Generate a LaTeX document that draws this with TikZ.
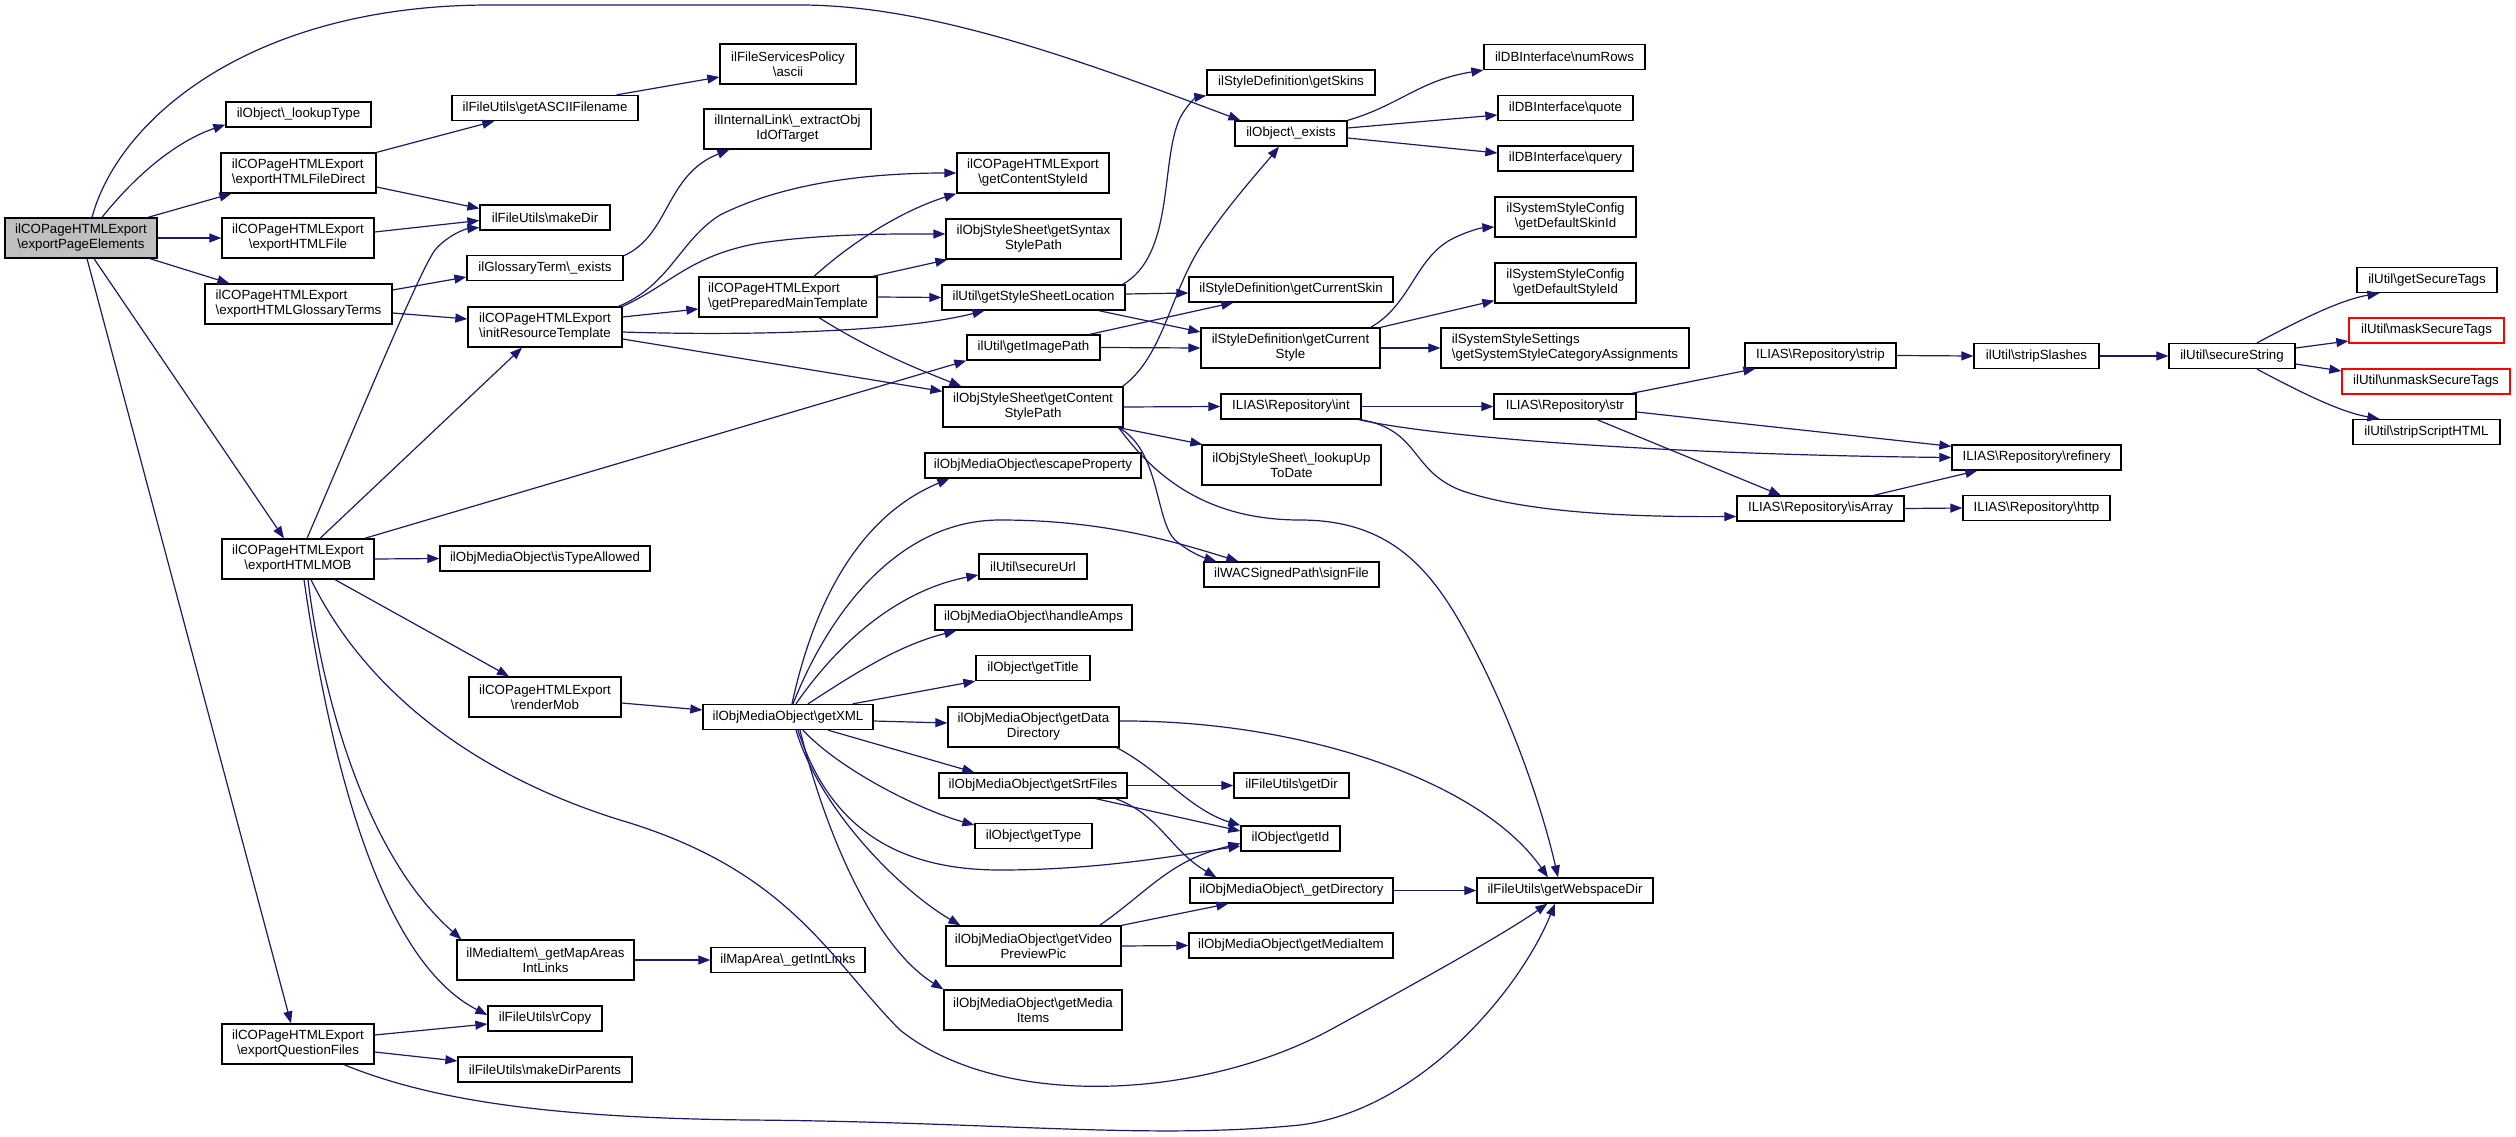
\documentclass[tikz,border=0pt]{standalone}
\usepackage{fontspec}
\setmainfont{Liberation Sans}
\usetikzlibrary{arrows.meta}
\definecolor{edgec}{HTML}{191970}
\definecolor{rootfill}{HTML}{BFBFBF}
\definecolor{redb}{HTML}{FF0000}
\newlength{\lwa}\newlength{\lwb}
\newcommand{\twol}[2]{\settowidth{\lwa}{#1}\settowidth{\lwb}{#2}\ifdim\lwb>\lwa\lwa=\lwb\fi\makebox[\lwa][l]{#1}\\\makebox[\lwa][c]{#2}}
\newcommand{\qbs}{\textbackslash}
\begin{document}
\begin{tikzpicture}[x=1pt,y=-1pt,
  nbox/.style={draw=black, line width=1.3pt, fill=white, inner sep=0pt, align=center, font=\fontsize{13.3}{15}\selectfont, minimum height=25},
  nbox2/.style={nbox, minimum height=40},
  cg/.style={draw=edgec, line width=1.2pt, -{Triangle[length=12pt,width=9pt]}}]
\useasboundingbox (0,0) rectangle (2516,1137);
% column 1
\node[nbox2, fill=rootfill, minimum width=152] (root) at (81,238) {\twol{ilCOPageHTMLExport}{\qbs exportPageElements}};
\node[nbox, minimum width=145] (lookupType) at (298.5,114.5) {ilObject\qbs\_lookupType};
\node[nbox2, minimum width=155] (fileDirect) at (298.5,173) {\twol{ilCOPageHTMLExport}{\qbs exportHTMLFileDirect}};
\node[nbox2, minimum width=152] (htmlFile) at (298,238) {\twol{ilCOPageHTMLExport}{\qbs exportHTMLFile}};
\node[nbox2, minimum width=187] (glossary) at (298.5,304) {\twol{ilCOPageHTMLExport}{\qbs exportHTMLGlossaryTerms}};
\node[nbox2, minimum width=152] (mob) at (298,559) {\twol{ilCOPageHTMLExport}{\qbs exportHTMLMOB}};
\node[nbox2, minimum width=152] (questionFiles) at (298,1044) {\twol{ilCOPageHTMLExport}{\qbs exportQuestionFiles}};
% column 2
\node[nbox, minimum width=186] (getASCII) at (545,108) {ilFileUtils\qbs getASCIIFilename};
\node[nbox, minimum width=130] (makeDir) at (545,217.5) {ilFileUtils\qbs makeDir};
\node[nbox, minimum width=156] (glossaryExists) at (545,268) {ilGlossaryTerm\qbs\_exists};
\node[nbox2, minimum width=154] (initRes) at (545,327) {\twol{ilCOPageHTMLExport}{\qbs initResourceTemplate}};
\node[nbox, minimum width=210] (isTypeAllowed) at (545,558.5) {ilObjMediaObject\qbs isTypeAllowed};
\node[nbox2, minimum width=152] (renderMob) at (545,697) {\twol{ilCOPageHTMLExport}{\qbs renderMob}};
\node[nbox2, minimum width=177] (getMapAreas) at (545.5,960) {\twol{ilMediaItem\qbs\_getMapAreas}{IntLinks}};
\node[nbox, minimum width=114] (rCopy) at (545,1018.5) {ilFileUtils\qbs rCopy};
\node[nbox, minimum width=174] (makeDirParents) at (545,1069.5) {ilFileUtils\qbs makeDirParents};
% column 3
\node[nbox2, minimum width=136] (ascii) at (788,64) {\twol{ilFileServicesPolicy}{\qbs ascii}};
\node[nbox2, minimum width=167] (extractObj) at (787.5,129) {\twol{ilInternalLink\qbs\_extractObj}{IdOfTarget}};
\node[nbox2, minimum width=178] (prepared) at (788,297) {\twol{ilCOPageHTMLExport}{\qbs getPreparedMainTemplate}};
\node[nbox, minimum width=170] (getXML) at (788,717) {ilObjMediaObject\qbs getXML};
\node[nbox, minimum width=154] (getIntLinks) at (788,960) {ilMapArea\qbs\_getIntLinks};
% column 4
\node[nbox2, minimum width=152] (getCSI) at (1033,173) {\twol{ilCOPageHTMLExport}{\qbs getContentStyleId}};
\node[nbox2, minimum width=175] (getSyntax) at (1033.5,239) {\twol{ilObjStyleSheet\qbs getSyntax}{StylePath}};
\node[nbox, minimum width=183] (getSSL) at (1033.5,297.5) {ilUtil\qbs getStyleSheetLocation};
\node[nbox, minimum width=133] (getImagePath) at (1033.5,347.5) {ilUtil\qbs getImagePath};
\node[nbox2, minimum width=180] (getCSP) at (1033,407) {\twol{ilObjStyleSheet\qbs getContent}{StylePath}};
\node[nbox, minimum width=216] (escapeProperty) at (1033,465.5) {ilObjMediaObject\qbs escapeProperty};
\node[nbox, minimum width=108] (secureUrl) at (1033,566.5) {ilUtil\qbs secureUrl};
\node[nbox, minimum width=197] (handleAmps) at (1033.5,617.5) {ilObjMediaObject\qbs handleAmps};
\node[nbox, minimum width=114] (getTitle) at (1033,668) {ilObject\qbs getTitle};
\node[nbox2, minimum width=171] (getDataDir) at (1033.5,727) {\twol{ilObjMediaObject\qbs getData}{Directory}};
\node[nbox, minimum width=188] (getSrtFiles) at (1033,785.5) {ilObjMediaObject\qbs getSrtFiles};
\node[nbox, minimum width=117] (getType) at (1033.5,836) {ilObject\qbs getType};
\node[nbox2, minimum width=175] (getVideo) at (1033.5,946) {\twol{ilObjMediaObject\qbs getVideo}{PreviewPic}};
\node[nbox2, minimum width=178] (getMediaItems) at (1033,1010) {\twol{ilObjMediaObject\qbs getMedia}{Items}};
% column 5
\node[nbox, minimum width=168] (getSkins) at (1291,82.5) {ilStyleDefinition\qbs getSkins};
\node[nbox, minimum width=112] (objExists) at (1291,133.5) {ilObject\qbs\_exists};
\node[nbox, minimum width=204] (getCurSkin) at (1291,289.5) {ilStyleDefinition\qbs getCurrentSkin};
\node[nbox2, minimum width=179] (getCurStyle) at (1290.5,348) {\twol{ilStyleDefinition\qbs getCurrent}{Style}};
\node[nbox, minimum width=140] (int) at (1291,406.5) {ILIAS\qbs Repository\qbs int};
\node[nbox2, minimum width=179] (lookupUpToDate) at (1291.5,465) {\twol{ilObjStyleSheet\qbs\_lookupUp}{ToDate}};
\node[nbox, minimum width=175] (signFile) at (1291.5,574.5) {ilWACSignedPath\qbs signFile};
\node[nbox, minimum width=115] (getDir) at (1291.5,785.5) {ilFileUtils\qbs getDir};
\node[nbox, minimum width=99] (getId) at (1290.5,838.5) {ilObject\qbs getId};
\node[nbox, minimum width=203] (getDirectory) at (1291.5,890.5) {ilObjMediaObject\qbs\_getDirectory};
\node[nbox, minimum width=204] (getMediaItem) at (1291,945.5) {ilObjMediaObject\qbs getMediaItem};
% column 6
\node[nbox, minimum width=161] (numRows) at (1564.5,57) {ilDBInterface\qbs numRows};
\node[nbox, minimum width=135] (quote) at (1565.5,108) {ilDBInterface\qbs quote};
\node[nbox, minimum width=135] (query) at (1565.5,158.5) {ilDBInterface\qbs query};
\node[nbox2, minimum width=141] (getDefSkin) at (1565.5,217) {\twol{ilSystemStyleConfig}{\qbs getDefaultSkinId}};
\node[nbox2, minimum width=141] (getDefStyle) at (1565.5,283) {\twol{ilSystemStyleConfig}{\qbs getDefaultStyleId}};
\node[nbox2, minimum width=248] (getSysStyle) at (1565,348) {\twol{ilSystemStyleSettings}{\qbs getSystemStyleCategoryAssignments}};
\node[nbox, minimum width=142] (str) at (1565,406.5) {ILIAS\qbs Repository\qbs str};
\node[nbox, minimum width=176] (getWebspace) at (1565,890.5) {ilFileUtils\qbs getWebspaceDir};
% column 7-10
\node[nbox, minimum width=151] (strip) at (1820.5,355.5) {ILIAS\qbs Repository\qbs strip};
\node[nbox, minimum width=167] (isArray) at (1820.5,508.5) {ILIAS\qbs Repository\qbs isArray};
\node[nbox, minimum width=125] (stripSlashes) at (2036.5,356) {ilUtil\qbs stripSlashes};
\node[nbox, minimum width=169] (refinery) at (2036.5,457.5) {ILIAS\qbs Repository\qbs refinery};
\node[nbox, minimum width=147] (http) at (2036.5,508) {ILIAS\qbs Repository\qbs http};
\node[nbox, minimum width=126] (secureString) at (2232,356) {ilUtil\qbs secureString};
\node[nbox, minimum width=140] (getSecureTags) at (2427,280) {ilUtil\qbs getSecureTags};
\node[nbox, draw=redb, minimum width=155] (mask) at (2426.5,330.5) {ilUtil\qbs maskSecureTags};
\node[nbox, draw=redb, minimum width=168] (unmask) at (2426,381.5) {ilUtil\qbs unmaskSecureTags};
\node[nbox, minimum width=147] (stripScript) at (2426.5,432) {ilUtil\qbs stripScriptHTML};
% edges from root
\draw[cg] ([xshift=11pt]root.north) .. controls (118,120) and (250,5) .. (490,5) -- (800,5) .. controls (930,5) and (1080,60) .. ([xshift=6pt]objExists.north west);
\draw[cg] ([xshift=21pt]root.north) .. controls (140,170) and (180,140) .. ([yshift=3pt]lookupType.south west);
\draw[cg] ([xshift=67pt]root.north) -- ([xshift=11pt]fileDirect.south west);
\draw[cg] (root.east) -- (htmlFile.west);
\draw[cg] ([xshift=69pt]root.south) -- ([xshift=25pt]glossary.north west);
\draw[cg] ([xshift=13pt]root.south) -- ([xshift=-14pt]mob.north);
\draw[cg] ([xshift=6pt]root.south) -- ([xshift=-7pt]questionFiles.north);
% column 1 -> 2
\draw[cg] (fileDirect.north east) -- ([xshift=43pt]getASCII.south west);
\draw[cg] ([yshift=-14pt]fileDirect.east) -- ([yshift=9pt]makeDir.west);
\draw[cg] ([yshift=6pt]htmlFile.east) -- ([yshift=-3pt]makeDir.west);
\draw[cg] ([yshift=14pt]glossary.east) -- ([yshift=-9pt]glossaryExists.west);
\draw[cg] ([yshift=-9pt]glossary.east) -- ([yshift=8pt]initRes.west);
\draw[cg] ([xshift=-22pt]getASCII.north east) -- ([yshift=-13pt]ascii.west);
\draw[cg] ([yshift=-1pt]glossaryExists.north east) .. controls (670,235) and (665,175) .. ([xshift=26pt]extractObj.south west);
% initResourceTemplate
\draw[cg] ([xshift=-4pt]initRes.north east) .. controls (670,285) and (680,240) .. (720,215) .. controls (790,180) and (880,173) .. (getCSI.west);
\draw[cg] (initRes.north east) .. controls (670,285) and (690,255) .. (760,243) .. controls (830,233) and (900,234) .. ([yshift=5pt]getSyntax.west);
\draw[cg] ([yshift=10pt]initRes.east) -- ([yshift=-12pt]prepared.west);
\draw[cg] ([yshift=-5pt]initRes.east) .. controls (750,336) and (900,332) .. ([xshift=-49pt]getSSL.south);
\draw[cg] ([yshift=-12pt]initRes.east) -- ([yshift=-5pt]getCSP.north west);
% prepared
\draw[cg] ([xshift=26pt]prepared.north) .. controls (860,235) and (910,208) .. (getCSI.south west);
\draw[cg] ([xshift=-5pt]prepared.north east) -- ([xshift=2pt]getSyntax.south west);
\draw[cg] (prepared.east) -- (getSSL.west);
\draw[cg] ([xshift=31pt]prepared.south) .. controls (870,350) and (920,370) .. ([xshift=19pt]getCSP.north west);
% getStyleSheetLocation, getImagePath
\draw[cg] ([xshift=-3pt]getSSL.north east) .. controls (1175,255) and (1160,160) .. (1180,118) .. controls (1188,103) and (1197,97) .. (getSkins.south west);
\draw[cg] ([yshift=3.5pt]getSSL.east) -- ([yshift=-3.5pt]getCurSkin.west);
\draw[cg] ([xshift=-27pt]getSSL.south east) -- ([yshift=16pt]getCurStyle.west);
\draw[cg] ([xshift=-11pt]getImagePath.north east) -- ([xshift=45pt]getCurSkin.south west);
\draw[cg] (getImagePath.east) -- (getCurStyle.west);
% getContentStylePath
\draw[cg] ([xshift=-1pt]getCSP.north east) .. controls (1165,355) and (1170,290) .. (1205,240) .. controls (1230,203) and (1260,170) .. ([xshift=-12pt]objExists.south);
\draw[cg] (getCSP.east) -- (int.west);
\draw[cg] ([xshift=-5pt]getCSP.south east) -- ([xshift=1pt]lookupUpToDate.north west);
\draw[cg] ([xshift=-5pt]getCSP.south east) .. controls (1160,450) and (1155,520) .. (1175,540) .. controls (1190,553) and (1205,558) .. ([xshift=13pt]signFile.north west);
\draw[cg] ([xshift=-5pt]getCSP.south east) .. controls (1150,470) and (1200,520) .. (1300,520) .. controls (1400,520) and (1440,580) .. (1480,660) .. controls (1520,740) and (1545,820) .. ([xshift=-7pt]getWebspace.north);
% ilObject exists
\draw[cg] (objExists.north east) .. controls (1400,105) and (1420,80) .. (numRows.south west);
\draw[cg] ([yshift=5.5pt]objExists.east) -- ([yshift=-7pt]quote.west);
\draw[cg] ([yshift=-4.5pt]objExists.east) -- ([yshift=5.5pt]query.west);
% getCurrentStyle
\draw[cg] ([xshift=-10pt]getCurStyle.north east) .. controls (1410,305) and (1415,260) .. (1450,240) .. controls (1465,232) and (1480,228) .. ([yshift=-10pt]getDefSkin.west);
\draw[cg] (getCurStyle.north east) -- ([yshift=3pt]getDefStyle.south west);
\draw[cg] (getCurStyle.east) -- (getSysStyle.west);
% ILIAS Repository
\draw[cg] (int.east) -- (str.west);
\draw[cg] ([xshift=-3pt]int.south east) .. controls (1450,440) and (1700,455) .. (refinery.west);
\draw[cg] ([xshift=-1pt]int.south east) .. controls (1420,430) and (1410,470) .. (1460,490) .. controls (1530,515) and (1650,517) .. ([yshift=-8pt]isArray.west);
\draw[cg] ([xshift=-5pt]str.north east) -- ([xshift=11pt]strip.south west);
\draw[cg] ([yshift=-5.5pt]str.east) -- ([yshift=-2pt]refinery.north west);
\draw[cg] ([xshift=32pt]str.south) -- ([xshift=-39.5pt]isArray.north);
\draw[cg] ([xshift=-31pt]isArray.north east) -- ([xshift=26pt]refinery.south west);
\draw[cg] (isArray.east) -- (http.west);
\draw[cg] (strip.east) -- (stripSlashes.west);
\draw[cg] (stripSlashes.east) -- (secureString.west);
\draw[cg] ([xshift=25pt]secureString.north) .. controls (2300,320) and (2340,300) .. ([xshift=23pt]getSecureTags.south west);
\draw[cg] ([yshift=8pt]secureString.east) -- ([yshift=-10.5pt]mask.west);
\draw[cg] ([yshift=-8pt]secureString.east) -- ([yshift=10.5pt]unmask.west);
\draw[cg] ([xshift=25pt]secureString.south) .. controls (2300,392) and (2340,412) .. ([xshift=27pt]stripScript.north west);
% exportHTMLMOB
\draw[cg] ([xshift=9pt]mob.north) .. controls (360,415) and (420,270) .. (435,250) .. controls (448,235) and (465,229) .. ([yshift=-10pt]makeDir.west);
\draw[cg] ([xshift=22pt]mob.north) -- ([xshift=-23pt]initRes.south);
\draw[cg] ([xshift=-10pt]mob.north east) -- (getImagePath.south west);
\draw[cg] (mob.east) -- (isTypeAllowed.west);
\draw[cg] ([xshift=37pt]mob.south) -- ([xshift=-36pt]renderMob.north);
\draw[cg] ([xshift=10pt]mob.south) .. controls (320,680) and (360,850) .. ([xshift=5pt]getMapAreas.north west);
\draw[cg] ([xshift=6pt]mob.south) .. controls (330,760) and (380,960) .. ([yshift=3.5pt]rCopy.west);
\draw[cg] ([xshift=13pt]mob.south) .. controls (360,680) and (460,770) .. (620,820) .. controls (790,870) and (830,960) .. (900,1030) .. controls (1000,1110) and (1200,1100) .. (1330,1030) .. controls (1440,970) and (1510,930) .. ([xshift=71pt]getWebspace.south west);
% exportQuestionFiles
\draw[cg] ([yshift=9pt]questionFiles.east) -- ([yshift=-5.5pt]rCopy.west);
\draw[cg] ([yshift=-8pt]questionFiles.east) -- ([yshift=8.5pt]makeDirParents.west);
\draw[cg] ([xshift=46pt]questionFiles.south) .. controls (430,1100) and (550,1118) .. (750,1120) .. controls (1000,1122) and (1150,1140) .. (1300,1125) .. controls (1420,1110) and (1520,990) .. ([xshift=-10pt]getWebspace.south);
\draw[cg] (getMapAreas.east) -- (getIntLinks.west);
\draw[cg] ([yshift=-6pt]renderMob.east) -- ([yshift=7pt]getXML.west);
% getXML
\draw[cg] ([xshift=4pt]getXML.north) .. controls (810,620) and (850,520) .. ([xshift=25pt]escapeProperty.south west);
\draw[cg] ([xshift=5pt]getXML.north) .. controls (830,610) and (900,520) .. (1000,520) .. controls (1100,520) and (1170,540) .. ([xshift=35pt]signFile.north west);
\draw[cg] ([xshift=8pt]getXML.north) .. controls (840,640) and (900,590) .. ([yshift=-8.5pt]secureUrl.west);
\draw[cg] ([xshift=20pt]getXML.north) .. controls (860,670) and (900,645) .. ([xshift=22pt]handleAmps.south west);
\draw[cg] ([xshift=-21pt]getXML.north east) -- (getTitle.south west);
\draw[cg] ([yshift=-4pt]getXML.east) -- ([yshift=4pt]getDataDir.west);
\draw[cg] ([xshift=40pt]getXML.south) -- ([xshift=36pt]getSrtFiles.north west);
\draw[cg] ([xshift=15pt]getXML.south) .. controls (840,770) and (920,810) .. ([yshift=11pt]getType.west);
\draw[cg] ([xshift=10pt]getXML.south) .. controls (830,830) and (900,870) .. (1000,870) .. controls (1100,870) and (1180,855) .. ([yshift=-7.5pt]getId.west);
\draw[cg] ([xshift=8pt]getXML.south) .. controls (820,810) and (900,890) .. ([xshift=15pt]getVideo.north west);
\draw[cg] ([xshift=12pt]getXML.south) .. controls (830,850) and (880,950) .. (getMediaItems.north west);
% lower middle
\draw[cg] ([yshift=6pt]getDataDir.east) .. controls (1300,720) and (1480,780) .. ([xshift=-17pt]getWebspace.north);
\draw[cg] ([xshift=-3pt]getDataDir.south east) .. controls (1160,770) and (1190,810) .. (getId.north west);
\draw[cg] (getSrtFiles.east) -- (getDir.west);
\draw[cg] ([xshift=-32pt]getSrtFiles.south east) -- ([yshift=7.5pt]getId.west);
\draw[cg] ([xshift=-12pt]getSrtFiles.south east) .. controls (1160,815) and (1170,850) .. ([xshift=27pt]getDirectory.north west);
\draw[cg] ([xshift=-22pt]getVideo.north east) .. controls (1150,890) and (1170,860) .. ([yshift=-5pt]getId.west);
\draw[cg] (getVideo.north east) -- ([xshift=39pt]getDirectory.south west);
\draw[cg] (getVideo.east) -- (getMediaItem.west);
\draw[cg] (getDirectory.east) -- (getWebspace.west);
\end{tikzpicture}
\end{document}
